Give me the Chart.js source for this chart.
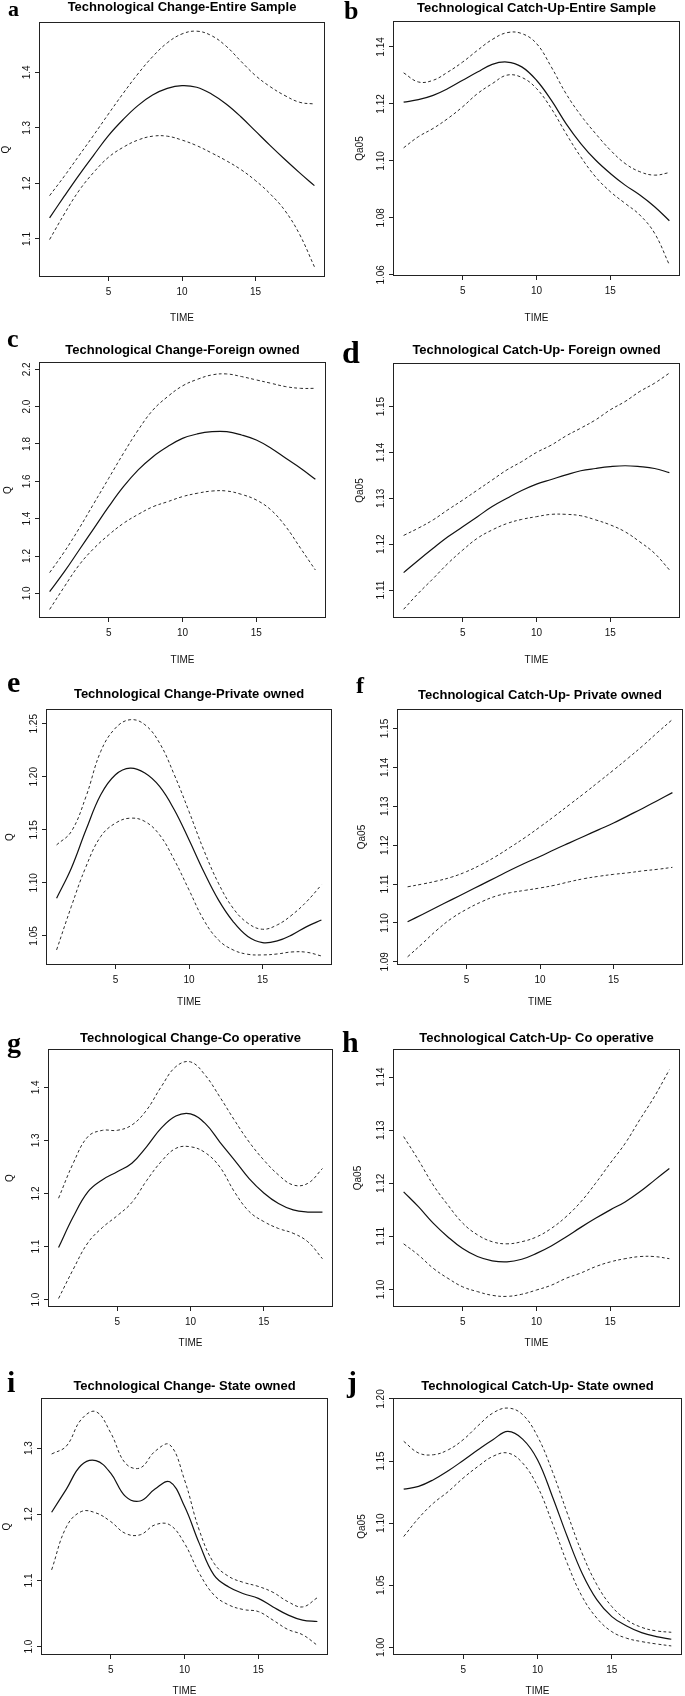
<!DOCTYPE html>
<html>
<head>
<meta charset="utf-8">
<script src="https://cdn.jsdelivr.net/npm/chart.js@4.4.0/dist/chart.umd.min.js"></script>
<style>
  html, body { margin: 0; padding: 0; background: #fff; overflow: hidden; }
  #page { position: relative; width: 685px; height: 1696px; }
  #page canvas { position: absolute; }
  .tag { position: absolute; font-family: "Liberation Serif", "DejaVu Serif", serif; font-weight: bold; line-height: 1; color: #000; }
</style>
</head>
<body>
<div id="page"></div>
<script>
// time axis shared by every panel
const TIME = [1, 2, 3, 4, 5, 6, 7, 8, 9, 10, 11, 12, 13, 14, 15, 16, 17, 18, 19];
const X_TICKS = [5, 10, 15];
const X_MIN = 0.28, X_MAX = 19.72;

// a - Technological Change, entire sample
const allChangeFit = [1.138, 1.177, 1.215, 1.251, 1.286, 1.315, 1.340, 1.359, 1.371, 1.376, 1.373, 1.361, 1.343, 1.320, 1.294, 1.268, 1.243, 1.219, 1.196];
const allChangeUp = [1.178, 1.213, 1.250, 1.287, 1.325, 1.362, 1.397, 1.428, 1.453, 1.469, 1.474, 1.466, 1.447, 1.420, 1.394, 1.374, 1.358, 1.346, 1.343];
const allChangeLo = [1.099, 1.145, 1.187, 1.220, 1.247, 1.265, 1.278, 1.285, 1.285, 1.278, 1.268, 1.255, 1.241, 1.225, 1.205, 1.181, 1.151, 1.108, 1.050];
const allChangeTicks = ['1.1', '1.2', '1.3', '1.4'];

// b - Technological Catch-Up, entire sample
const allCatchFit = [1.1206, 1.1215, 1.1230, 1.1254, 1.1283, 1.1312, 1.1339, 1.1347, 1.1330, 1.1283, 1.1213, 1.1131, 1.1061, 1.1003, 1.0956, 1.0915, 1.0880, 1.0839, 1.0790];
const allCatchUp = [1.1309, 1.1277, 1.1283, 1.1312, 1.1347, 1.1388, 1.1426, 1.1450, 1.1447, 1.1412, 1.1330, 1.1236, 1.1160, 1.1096, 1.1038, 1.0991, 1.0962, 1.0950, 1.0959];
const allCatchLo = [1.1046, 1.1085, 1.1114, 1.1149, 1.1190, 1.1236, 1.1271, 1.1301, 1.1293, 1.1254, 1.1184, 1.1096, 1.1014, 1.0944, 1.0892, 1.0851, 1.0810, 1.0746, 1.0635];
const allCatchTicks = ['1.06', '1.08', '1.10', '1.12', '1.14'];

// c - Technological Change, foreign owned
const foreignChangeFit = [1.009, 1.116, 1.232, 1.348, 1.464, 1.571, 1.661, 1.732, 1.786, 1.830, 1.854, 1.866, 1.866, 1.848, 1.821, 1.777, 1.723, 1.670, 1.611];
const foreignChangeUp = [1.111, 1.223, 1.348, 1.482, 1.616, 1.750, 1.875, 1.982, 2.054, 2.111, 2.146, 2.170, 2.175, 2.161, 2.143, 2.125, 2.107, 2.098, 2.098];
const foreignChangeLo = [0.914, 1.036, 1.152, 1.241, 1.313, 1.375, 1.423, 1.464, 1.491, 1.518, 1.536, 1.548, 1.548, 1.530, 1.500, 1.446, 1.357, 1.241, 1.125];
const foreignChangeTicks = ['1.0', '1.2', '1.4', '1.6', '1.8', '2.0', '2.2'];

// d - Technological Catch-Up, foreign owned
const foreignCatchFit = [1.1138, 1.1165, 1.1191, 1.1216, 1.1238, 1.1260, 1.1282, 1.1300, 1.1317, 1.1331, 1.1341, 1.1351, 1.1360, 1.1365, 1.1369, 1.1371, 1.1369, 1.1365, 1.1356];
const foreignCatchUp = [1.1219, 1.1235, 1.1253, 1.1275, 1.1296, 1.1318, 1.1340, 1.1362, 1.1380, 1.1400, 1.1416, 1.1436, 1.1453, 1.1471, 1.1493, 1.1511, 1.1533, 1.1551, 1.1573];
const foreignCatchLo = [1.1058, 1.1093, 1.1125, 1.1158, 1.1187, 1.1213, 1.1231, 1.1245, 1.1254, 1.1260, 1.1265, 1.1265, 1.1262, 1.1253, 1.1242, 1.1227, 1.1205, 1.1180, 1.1144];
const foreignCatchTicks = ['1.11', '1.12', '1.13', '1.14', '1.15'];

// e - Technological Change, private owned
const privateChangeFit = [1.0855, 1.1138, 1.1500, 1.1830, 1.2019, 1.2082, 1.2035, 1.1909, 1.1689, 1.1406, 1.1107, 1.0840, 1.0635, 1.0494, 1.0437, 1.0453, 1.0510, 1.0588, 1.0650];
const privateChangeUp = [1.1358, 1.1484, 1.1814, 1.2239, 1.2459, 1.2538, 1.2491, 1.2318, 1.2019, 1.1673, 1.1311, 1.0997, 1.0761, 1.0620, 1.0563, 1.0604, 1.0698, 1.0824, 1.0981];
const privateChangeLo = [1.0368, 1.0777, 1.1154, 1.1437, 1.1563, 1.1610, 1.1579, 1.1453, 1.1217, 1.0934, 1.0651, 1.0462, 1.0368, 1.0327, 1.0321, 1.0330, 1.0349, 1.0346, 1.0311];
const privateChangeTicks = ['1.05', '1.10', '1.15', '1.20', '1.25'];

// f - Technological Catch-Up, private owned
const privateCatchFit = [1.1003, 1.1022, 1.1041, 1.1060, 1.1079, 1.1098, 1.1117, 1.1136, 1.1154, 1.1171, 1.1189, 1.1206, 1.1223, 1.1240, 1.1257, 1.1276, 1.1295, 1.1315, 1.1335];
const privateCatchUp = [1.1093, 1.1100, 1.1108, 1.1118, 1.1132, 1.1150, 1.1171, 1.1195, 1.1220, 1.1247, 1.1275, 1.1304, 1.1333, 1.1363, 1.1393, 1.1424, 1.1456, 1.1490, 1.1523];
const privateCatchLo = [1.0913, 1.0947, 1.0982, 1.1012, 1.1035, 1.1054, 1.1069, 1.1078, 1.1084, 1.1090, 1.1097, 1.1106, 1.1114, 1.1120, 1.1125, 1.1129, 1.1134, 1.1138, 1.1143];
const privateCatchTicks = ['1.09', '1.10', '1.11', '1.12', '1.13', '1.14', '1.15'];

// g - Technological Change, co operative
const coopChangeFit = [1.098, 1.156, 1.203, 1.226, 1.241, 1.257, 1.288, 1.323, 1.346, 1.350, 1.332, 1.297, 1.263, 1.228, 1.201, 1.181, 1.169, 1.165, 1.165];
const coopChangeUp = [1.191, 1.257, 1.307, 1.319, 1.319, 1.329, 1.357, 1.401, 1.439, 1.448, 1.423, 1.382, 1.338, 1.297, 1.263, 1.235, 1.216, 1.219, 1.247];
const coopChangeLo = [1.002, 1.057, 1.107, 1.136, 1.158, 1.183, 1.224, 1.260, 1.285, 1.288, 1.277, 1.250, 1.203, 1.166, 1.147, 1.134, 1.125, 1.109, 1.077];
const coopChangeTicks = ['1.0', '1.1', '1.2', '1.3', '1.4'];

// h - Technological Catch-Up, co operative
const coopCatchFit = [1.1184, 1.1156, 1.1125, 1.1099, 1.1077, 1.1062, 1.1054, 1.1052, 1.1057, 1.1068, 1.1082, 1.1099, 1.1117, 1.1134, 1.1150, 1.1165, 1.1184, 1.1206, 1.1228];
const coopCatchUp = [1.1288, 1.1244, 1.1197, 1.1159, 1.1125, 1.1103, 1.1090, 1.1086, 1.1090, 1.1099, 1.1115, 1.1137, 1.1165, 1.1200, 1.1238, 1.1275, 1.1320, 1.1364, 1.1414];
const coopCatchLo = [1.1086, 1.1065, 1.1040, 1.1021, 1.1005, 1.0996, 1.0989, 1.0987, 1.0991, 1.0999, 1.1008, 1.1021, 1.1031, 1.1043, 1.1052, 1.1058, 1.1062, 1.1062, 1.1058];
const coopCatchTicks = ['1.10', '1.11', '1.12', '1.13', '1.14'];

// i - Technological Change, state owned
const stateChangeFit = [1.203, 1.238, 1.274, 1.281, 1.262, 1.227, 1.220, 1.238, 1.249, 1.212, 1.156, 1.108, 1.090, 1.080, 1.073, 1.060, 1.048, 1.040, 1.038];
const stateChangeUp = [1.291, 1.303, 1.343, 1.355, 1.323, 1.277, 1.270, 1.295, 1.305, 1.252, 1.176, 1.126, 1.106, 1.097, 1.091, 1.082, 1.068, 1.060, 1.074];
const stateChangeLo = [1.116, 1.181, 1.204, 1.202, 1.189, 1.171, 1.169, 1.184, 1.184, 1.156, 1.111, 1.078, 1.063, 1.056, 1.053, 1.040, 1.026, 1.018, 1.002];
const stateChangeTicks = ['1.0', '1.1', '1.2', '1.3'];

// j - Technological Catch-Up, state owned
const stateCatchFit = [1.1274, 1.1296, 1.1350, 1.1422, 1.1505, 1.1591, 1.1672, 1.1739, 1.1677, 1.1511, 1.1215, 1.0892, 1.0597, 1.0382, 1.0247, 1.0172, 1.0118, 1.0086, 1.0065];
const stateCatchUp = [1.1659, 1.1565, 1.1551, 1.1591, 1.1672, 1.1785, 1.1887, 1.1927, 1.1874, 1.1699, 1.1417, 1.1081, 1.0758, 1.0503, 1.0328, 1.0221, 1.0161, 1.0132, 1.0121];
const stateCatchLo = [1.0892, 1.1040, 1.1161, 1.1255, 1.1363, 1.1457, 1.1538, 1.1565, 1.1484, 1.1296, 1.1000, 1.0677, 1.0409, 1.0234, 1.0126, 1.0073, 1.0046, 1.0027, 1.0011];
const stateCatchTicks = ['1.00', '1.05', '1.10', '1.15', '1.20'];

const panels = [
  { tag: 'a', title: 'Technological Change-Entire Sample', yLabel: 'Q', fit: allChangeFit, up: allChangeUp, lo: allChangeLo, ticks: allChangeTicks, yRange: [1.0316, 1.4905] },
  { tag: 'b', title: 'Technological Catch-Up-Entire Sample', yLabel: 'Qa05', fit: allCatchFit, up: allCatchUp, lo: allCatchLo, ticks: allCatchTicks, yRange: [1.0596, 1.1491] },
  { tag: 'c', title: 'Technological Change-Foreign owned', yLabel: 'Q', fit: foreignChangeFit, up: foreignChangeUp, lo: foreignChangeLo, ticks: foreignChangeTicks, yRange: [0.868, 2.239] },
  { tag: 'd', title: 'Technological Catch-Up- Foreign owned', yLabel: 'Qa05', fit: foreignCatchFit, up: foreignCatchUp, lo: foreignCatchLo, ticks: foreignCatchTicks, yRange: [1.1039, 1.1595] },
  { tag: 'e', title: 'Technological Change-Private owned', yLabel: 'Q', fit: privateChangeFit, up: privateChangeUp, lo: privateChangeLo, ticks: privateChangeTicks, yRange: [1.0226, 1.2639] },
  { tag: 'f', title: 'Technological Catch-Up- Private owned', yLabel: 'Qa05', fit: privateCatchFit, up: privateCatchUp, lo: privateCatchLo, ticks: privateCatchTicks, yRange: [1.0892, 1.155] },
  { tag: 'g', title: 'Technological Change-Co operative', yLabel: 'Q', fit: coopChangeFit, up: coopChangeUp, lo: coopChangeLo, ticks: coopChangeTicks, yRange: [0.986, 1.4723] },
  { tag: 'h', title: 'Technological Catch-Up- Co operative', yLabel: 'Qa05', fit: coopCatchFit, up: coopCatchUp, lo: coopCatchLo, ticks: coopCatchTicks, yRange: [1.0967, 1.1453] },
  { tag: 'i', title: 'Technological Change- State owned', yLabel: 'Q', fit: stateChangeFit, up: stateChangeUp, lo: stateChangeLo, ticks: stateChangeTicks, yRange: [0.9874, 1.3756] },
  { tag: 'j', title: 'Technological Catch-Up- State owned', yLabel: 'Qa05', fit: stateCatchFit, up: stateCatchUp, lo: stateCatchLo, ticks: stateCatchTicks, yRange: [0.9938, 1.2008] }
];

// where each panel sits on the page (canvas left, plot box, title / TIME centre, letter x, baseline, size)
const boxes = [
  { left: 0,   plot: [39, 22, 325, 277],     titleY: 7.5,  timeY: 318,  letter: [9, 16, 22] },
  { left: 354, plot: [393, 21, 680, 276],    titleY: 8.5,  timeY: 318,  letter: [345, 20, 26] },
  { left: 2,   plot: [39, 362, 326, 618],    titleY: 351,  timeY: 660,  letter: [8, 348, 26] },
  { left: 354, plot: [393, 363, 680, 618],   titleY: 351,  timeY: 660,  letter: [343, 363, 32] },
  { left: 4,   plot: [46, 709, 332, 965],    titleY: 695,  timeY: 1002, letter: [8, 692, 30] },
  { left: 356, plot: [397, 709, 683, 965],   titleY: 696,  timeY: 1002, letter: [357, 693, 24] },
  { left: 4,   plot: [48, 1049, 333, 1307],  titleY: 1039, timeY: 1343, letter: [8, 1052, 28] },
  { left: 352, plot: [393, 1049, 680, 1307], titleY: 1039, timeY: 1343, letter: [343, 1052, 30] },
  { left: 1,   plot: [41, 1398, 328, 1655],  titleY: 1387, timeY: 1691, letter: [8, 1392, 30] },
  { left: 356, plot: [393, 1398, 682, 1655], titleY: 1387, timeY: 1691, letter: [348, 1392, 30] }
];

const FONT = '"Liberation Sans", Arial, Helvetica, sans-serif';
Chart.defaults.font.family = FONT;
Chart.defaults.color = '#111';

const page = document.getElementById('page');
const measureCtx = document.createElement('canvas').getContext('2d');
measureCtx.font = '10px ' + FONT;

// R style full box round the plot region
const boxPlugin = {
  id: 'plotBox',
  afterDatasetsDraw(chart) {
    const a = chart.chartArea;
    const ctx = chart.ctx;
    ctx.save();
    ctx.strokeStyle = '#222';
    ctx.lineWidth = 1;
    ctx.strokeRect(a.left + 0.5, a.top + 0.5, a.right - a.left - 1, a.bottom - a.top - 1);
    ctx.restore();
  }
};

function dashed(values) {
  return { data: values, borderColor: '#2a2a2a', borderWidth: 1, borderDash: [3, 2.5] };
}

panels.forEach((p, k) => {
  const box = boxes[k];
  const [pl, pt, pr, pb] = box.plot;
  const top = Math.round(box.titleY - 7.8);
  const bottom = box.timeY + 8;
  const width = pr + 6 - box.left;
  const height = bottom - top;

  const canvas = document.createElement('canvas');
  canvas.width = width;
  canvas.height = height;
  canvas.style.left = box.left + 'px';
  canvas.style.top = top + 'px';
  canvas.style.width = width + 'px';
  canvas.style.height = height + 'px';
  page.appendChild(canvas);

  const widest = Math.max(...p.ticks.map(t => measureCtx.measureText(t).width));
  const yTickPad = 8 - widest / 2;

  new Chart(canvas, {
    type: 'line',
    data: {
      labels: TIME,
      datasets: [
        dashed(p.up),
        { data: p.fit, borderColor: '#111', borderWidth: 1.2 },
        dashed(p.lo)
      ]
    },
    options: {
      responsive: false,
      animation: false,
      layout: { autoPadding: false, padding: { left: 0, top: 0, right: 6, bottom: 0 } },
      elements: {
        point: { radius: 0 },
        line: { tension: 0.4, fill: false }
      },
      plugins: {
        legend: { display: false },
        tooltip: { enabled: false },
        title: {
          display: true,
          text: p.title,
          fullSize: false,
          color: '#000',
          font: { size: 13, weight: 'bold' },
          padding: { top: 0, bottom: pt - top - 15.6 }
        }
      },
      scales: {
        x: {
          type: 'linear',
          min: X_MIN,
          max: X_MAX,
          afterBuildTicks: s => { s.ticks = X_TICKS.map(v => ({ value: v })); },
          afterFit: s => { s.height = bottom - pb; },
          ticks: { font: { size: 10 }, padding: 5, maxRotation: 0, color: '#111' },
          grid: { drawOnChartArea: false, drawTicks: true, tickLength: 4, color: '#222' },
          border: { display: false },
          title: { display: true, text: 'TIME', font: { size: 10 }, color: '#111', padding: { top: 0, bottom: 2 } }
        },
        y: {
          min: p.yRange[0],
          max: p.yRange[1],
          afterBuildTicks: s => { s.ticks = p.ticks.map(t => ({ value: Number(t) })); },
          afterFit: s => { s.width = pl - box.left; },
          ticks: {
            font: { size: 10 },
            color: '#111',
            minRotation: 90,
            maxRotation: 90,
            crossAlign: 'center',
            padding: yTickPad,
            callback: (v, i) => p.ticks[i]
          },
          grid: { drawOnChartArea: false, drawTicks: true, tickLength: 4, color: '#222' },
          border: { display: false },
          title: { display: true, text: p.yLabel, font: { size: 10 }, color: '#111', padding: 0 }
        }
      }
    },
    plugins: [boxPlugin]
  });

  // panel letter
  const [lx, base, size] = box.letter;
  const tag = document.createElement('div');
  tag.className = 'tag';
  tag.textContent = p.tag;
  tag.style.fontSize = size + 'px';
  tag.style.left = (lx - 1) + 'px';
  tag.style.top = Math.round(base - 0.8375 * size) + 'px';
  page.appendChild(tag);
});
</script>
</body>
</html>
